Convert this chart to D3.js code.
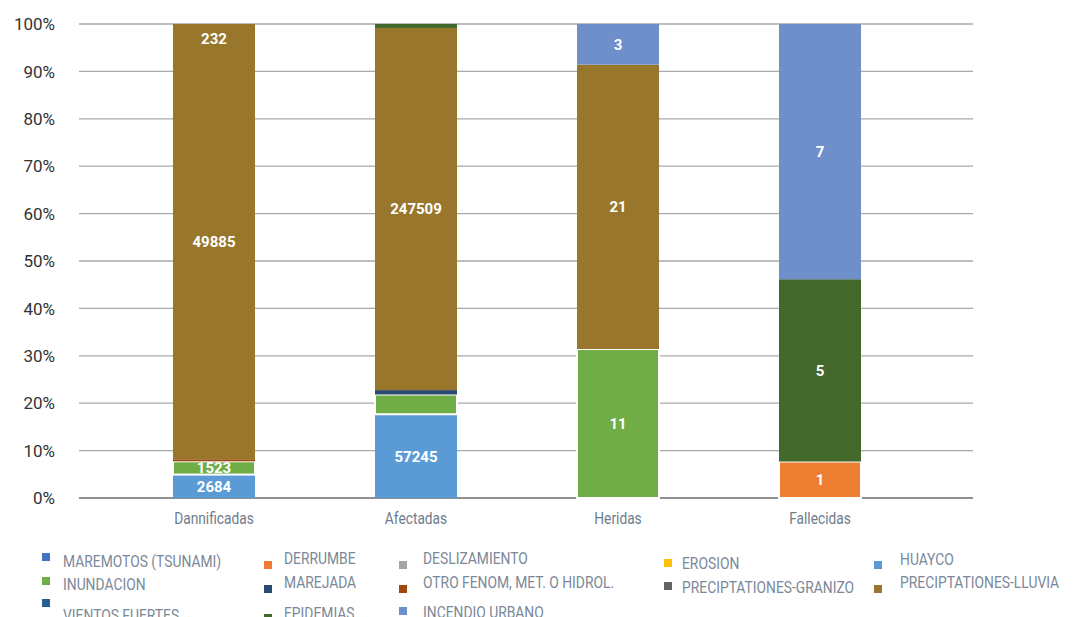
<!DOCTYPE html>
<html>
<head>
<meta charset="utf-8">
<script src="https://cdn.jsdelivr.net/npm/d3@7"></script>
<style>
  body { margin: 0; background: #fff; }
  svg { font-family: Roboto, "Noto Sans", sans-serif; }
</style>
</head>
<body>
<div id="chart"></div>
<script>
// categories on the x axis
const categories = ["Dannificadas", "Afectadas", "Heridas", "Fallecidas"];

// series, in legend / stacking order
const seriesNames = [
  "MAREMOTOS (TSUNAMI)", "DERRUMBE", "DESLIZAMIENTO", "EROSION", "HUAYCO",
  "INUNDACION", "MAREJADA", "OTRO FENOM, MET. O HIDROL.", "PRECIPTATIONES-GRANIZO", "PRECIPTATIONES-LLUVIA",
  "VIENTOS FUERTES", "EPIDEMIAS", "INCENDIO URBANO"
];
const seriesColors = [
  "#4472c4", "#ed7d31", "#a5a5a5", "#ffc000", "#5b9bd5",
  "#70ad47", "#2b4a72", "#9e480e", "#636363", "#98762b",
  "#255e91", "#43682b", "#6f8fcb"
];

// values per category, same order as seriesNames
const dannificadas = [0, 0, 0, 0, 2684, 1523, 0, 232, 0, 49885, 0, 0, 0];
const afectadas    = [0, 0, 0, 0, 57245, 13500, 3000, 0, 0, 247509, 0, 2700, 0];
const heridas      = [0, 0, 0, 0, 0, 11, 0, 0, 0, 21, 0, 0, 3];
const fallecidas   = [0, 1, 0, 0, 0, 0, 0, 0, 0, 0, 0, 5, 7];

const yTicks = [0, 0.1, 0.2, 0.3, 0.4, 0.5, 0.6, 0.7, 0.8, 0.9, 1];

// segments without a data label in the picture, and the one label shown at the top of its bar
const noLabel = ["Afectadas|INUNDACION", "Afectadas|MAREJADA", "Afectadas|EPIDEMIAS"];
const labelAtTop = ["Dannificadas|OTRO FENOM, MET. O HIDROL."];
const whiteEdge = ["INUNDACION", "DERRUMBE"];

let width = 1080, height = 617;

let svg = d3.select("#chart").append("svg")
    .attr("width", width)
    .attr("height", height);

let x = d3.scaleBand()
    .domain(categories)
    .range([113, 921])
    .paddingInner(0.594)
    .paddingOuter(0.297);

let y = d3.scaleLinear()
    .domain([0, 1])
    .range([498, 24]);

let color = d3.scaleOrdinal()
    .domain(seriesNames)
    .range(seriesColors);

let valueRows = [dannificadas, afectadas, heridas, fallecidas];
let rows = categories.map(function (c, i) {
    let r = {category: c};
    seriesNames.forEach(function (s, j) { r[s] = valueRows[i][j]; });
    return r;
});

let layers = d3.stack()
    .keys(seriesNames)
    .offset(d3.stackOffsetExpand)(rows);

// grid lines
svg.append("g").selectAll("line")
    .data(yTicks)
    .enter().append("line")
    .attr("x1", 79)
    .attr("x2", 973)
    .attr("y1", function (d) { return y(d); })
    .attr("y2", function (d) { return y(d); })
    .attr("stroke", function (d) { return d === 0 ? "#6b6b6b" : "#a9a9a9"; })
    .attr("stroke-width", 1.3);

// y axis labels
let yAxis = svg.append("g")
    .attr("transform", "translate(55,0)")
    .call(d3.axisLeft(y).tickValues(yTicks).tickFormat(d3.format(".0%")).tickSize(0).tickPadding(0));
yAxis.select(".domain").remove();
yAxis.selectAll("text")
    .style("font-family", "Roboto")
    .style("font-size", "17px")
    .attr("fill", "#333")
    .attr("dy", "0.34em");

// x axis labels
svg.append("g").selectAll("text")
    .data(categories)
    .enter().append("text")
    .attr("transform", function (d) {
        return "translate(" + (x(d) + x.bandwidth() / 2) + ",524) scale(0.86,1)";
    })
    .attr("text-anchor", "middle")
    .style("font-size", "16px")
    .attr("fill", "#6e7d8c")
    .text(function (d) { return d; });

// stacked bars, labels after each series so the next one may cover them
let bars = svg.append("g");
let topLabels = [];

layers.forEach(function (layer) {
    let key = layer.key;
    let segs = layer.filter(function (d) { return d[1] - d[0] > 0; });

    bars.append("g").selectAll("rect")
        .data(segs)
        .enter().append("rect")
        .attr("x", function (d) { return x(d.data.category); })
        .attr("width", x.bandwidth())
        .attr("y", function (d) { return y(d[1]); })
        .attr("height", function (d) { return y(d[0]) - y(d[1]); })
        .attr("fill", color(key))
        .attr("stroke", whiteEdge.indexOf(key) >= 0 ? "#fff" : "none")
        .attr("stroke-width", 2);

    let labelled = segs.filter(function (d) {
        let id = d.data.category + "|" + key;
        if (labelAtTop.indexOf(id) >= 0) { topLabels.push({d: d, key: key}); return false; }
        return noLabel.indexOf(id) < 0;
    });

    bars.append("g").selectAll("text")
        .data(labelled)
        .enter().append("text")
        .attr("x", function (d) { return x(d.data.category) + x.bandwidth() / 2; })
        .attr("y", function (d) { return (y(d[0]) + y(d[1])) / 2; })
        .attr("dy", "0.36em")
        .attr("text-anchor", "middle")
        .style("font-size", "15px")
        .style("font-weight", "bold")
        .attr("fill", "#fff")
        .text(function (d) { return d.data[key]; });
});

bars.append("g").selectAll("text")
    .data(topLabels)
    .enter().append("text")
    .attr("x", function (t) { return x(t.d.data.category) + x.bandwidth() / 2; })
    .attr("y", y(1) + 15)
    .attr("dy", "0.36em")
    .attr("text-anchor", "middle")
    .style("font-size", "15px")
    .style("font-weight", "bold")
    .attr("fill", "#fff")
    .text(function (t) { return t.d.data[t.key]; });

// legend, 5 columns
let colMarkX = [42, 264, 399, 664, 874];
let colTextX = [63, 284, 423, 682, 900];
let rowTextY = [[561, 558, 558, 563, 559], [584, 582, 582, 587, 582], [615, 613, 612]];
let rowMarkY = [[557, 565, 565, 563, 565], [581, 589, 589, 586, 589], [603, 618, 611]];

let legend = svg.append("g").selectAll("g")
    .data(seriesNames)
    .enter().append("g");

legend.append("rect")
    .attr("x", function (d, i) { return colMarkX[i % 5]; })
    .attr("y", function (d, i) { return rowMarkY[Math.floor(i / 5)][i % 5] - 4; })
    .attr("width", 8)
    .attr("height", 8)
    .attr("fill", function (d) { return color(d); });

legend.append("text")
    .attr("transform", function (d, i) {
        return "translate(" + colTextX[i % 5] + "," + rowTextY[Math.floor(i / 5)][i % 5] + ") scale(0.84,1)";
    })
    .attr("dy", "0.36em")
    .style("font-size", "16.5px")
    .attr("fill", "#7a8898")
    .text(function (d) { return d; });
</script>
</body>
</html>
